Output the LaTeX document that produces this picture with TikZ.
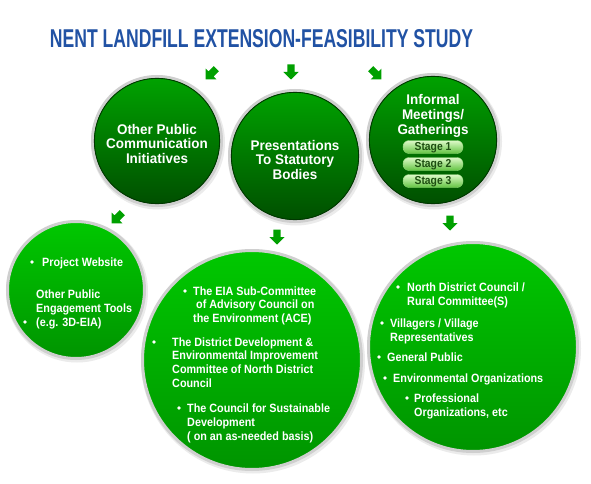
\documentclass[tikz,border=0pt]{standalone}
\usepackage{fontspec}
\setmainfont{Liberation Sans}
\newfontfamily\bfont{Liberation Sans}[FakeStretch=0.9]
\newfontfamily\tfont{Liberation Sans}[FakeStretch=0.96]
\definecolor{ttl}{HTML}{2152A4}
\definecolor{agreen}{HTML}{00A000}
\definecolor{topA}{HTML}{00A300}
\definecolor{topB}{HTML}{004E00}
\definecolor{botA}{HTML}{00C800}
\definecolor{botB}{HTML}{009400}
\definecolor{ring}{HTML}{CFCFCF}
\definecolor{stA}{HTML}{DDF9C8}
\definecolor{stB}{HTML}{62C442}
\definecolor{stT}{HTML}{1E4E12}
\begin{document}
\begin{tikzpicture}[x=1pt,y=-1pt,
  bigcirc/.style={circle, draw=ring, line width=3pt, inner sep=0pt},
  topc/.style={bigcirc, top color=topA, bottom color=topB},
  botc/.style={bigcirc, top color=botA, bottom color=botB},
  toptext/.style={text=white, align=center, font=\tfont\bfseries\fontsize{14}{14.5}\selectfont, inner sep=0pt, anchor=base},
  bt/.style={text=white, align=left, font=\bfont\bfseries\fontsize{12}{13.8}\selectfont, inner sep=0pt, anchor=base west},
  bul/.style={circle, fill=white, inner sep=0pt, minimum size=3.6pt},
  stagebtn/.style={rectangle, rounded corners=6pt, minimum width=60pt, minimum height=13pt, top color=stA, bottom color=stB, draw=stB!70!white, line width=0.4pt, inner sep=0pt, text=stT, text height=8pt, text depth=1.5pt, font=\bfont\bfseries\fontsize{11.5}{12}\selectfont},
  garrow/.style={fill=agreen}
]
\useasboundingbox (0,0) rectangle (591,484);
\fill[white] (0,0) rectangle (591,484);

% title
\node[anchor=base, inner sep=0pt, text=ttl] (title) at (261.5,48)
  {\resizebox{423pt}{18pt}{\bfseries NENT LANDFILL EXTENSION-FEASIBILITY STUDY}};

% shadows
\foreach \cx/\cy/\r in {157/141/66, 295/156/67, 433/140/67, 76/290/70, 252/360/111, 473/347/106}
  \fill[black!8] (\cx+1,\cy+1.5) circle (\r pt+1pt);

% circles
\node[topc, minimum size=129pt] (c1) at (157,141) {};
\node[topc, minimum size=131pt] (c2) at (295,156) {};
\node[topc, minimum size=131pt] (c3) at (433,140) {};
\node[botc, minimum size=137pt] (c4) at (76,290) {};
\node[botc, minimum size=219pt] (c5) at (252,360) {};
\node[botc, minimum size=209pt] (c6) at (473,347) {};
\draw[topB!70!black, line width=0.9pt] (c1.center) circle (62.6pt);
\draw[topB!70!black, line width=0.9pt] (c2.center) circle (63.6pt);
\draw[topB!70!black, line width=0.9pt] (c3.center) circle (63.6pt);

% arrows
\foreach \ax/\ay/\rot in {211/74/-45, 291/72/0, 376/74/45, 117/218/-45, 277/237/0, 450/223/0}
  \fill[garrow, shift={(\ax,\ay)}, rotate=\rot]
    (-3.6,-7.5) -- (3.6,-7.5) -- (3.6,0) -- (7.6,0) -- (0,7.5) -- (-7.6,0) -- (-3.6,0) -- cycle;

% top circle texts (anchor = baseline of last line)
\node[toptext] (t1) at (157,163) {Other Public\\Communication\\Initiatives};
\node[toptext] (t2) at (295,179) {Presentations\\To Statutory\\Bodies};
\node[toptext] (t3) at (433,134) {Informal\\Meetings/\\Gatherings};
\node[stagebtn] (s1) at (433,147) {Stage 1};
\node[stagebtn] (s2) at (433,164) {Stage 2};
\node[stagebtn] (s3) at (433,181) {Stage 3};

% bottom left
\node[bul] (b41) at (32,262) {};
\node[bt] (l41) at (42,266) {Project Website};
\node[bt] (l42) at (36,326) {Other Public\\Engagement Tools\\(e.g. 3D-EIA)};
\node[bul] (b42) at (25,322) {};

% bottom middle
\node[bul] (b51) at (185,291) {};
\node[bt] (l51a) at (193,295) {The EIA Sub-Committee};
\node[bt] (l51b) at (196,308) {of Advisory Council on};
\node[bt] (l51c) at (193,322) {the Environment (ACE)};
\node[bul] (b52) at (154,342) {};
\node[bt] (l52) at (172,387.4) {The District Development \&\\Environmental Improvement\\Committee of North District\\Council};
\node[bul] (b53) at (179,408) {};
\node[bt] (l53) at (187,440) {The Council for Sustainable\\Development\\( on an as-needed basis)};

% bottom right
\node[bul] (b61) at (398,287) {};
\node[bt] (l61) at (407,305) {North District Council /\\Rural Committee(S)};
\node[bul] (b62) at (382,323) {};
\node[bt] (l62) at (390,341) {Villagers / Village\\Representatives};
\node[bul] (b63) at (379,357) {};
\node[bt] (l63) at (387,361) {General Public};
\node[bul] (b64) at (385,378) {};
\node[bt] (l64) at (393,382) {Environmental Organizations};
\node[bul] (b65) at (407,398) {};
\node[bt] (l65) at (414,416) {Professional\\Organizations, etc};
\end{tikzpicture}
\end{document}
